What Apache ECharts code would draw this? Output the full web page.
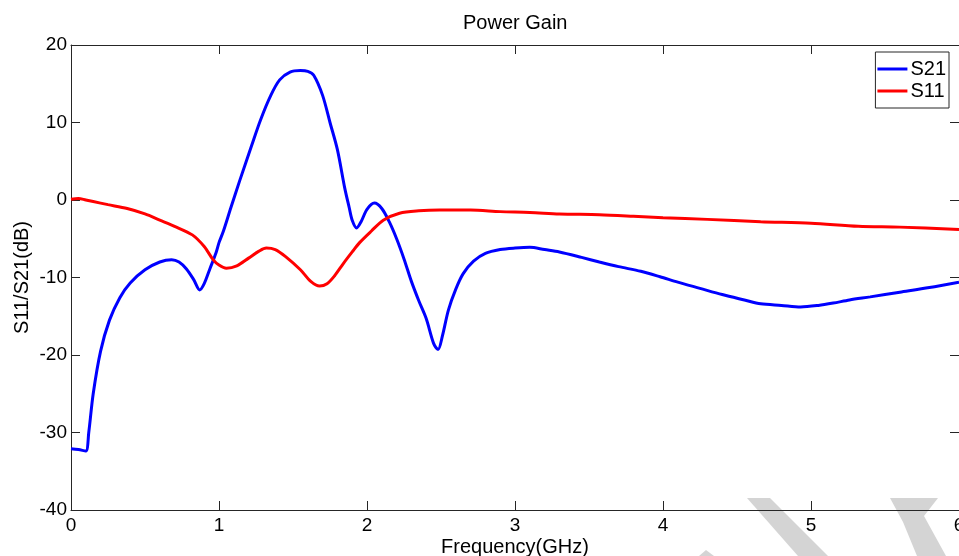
<!DOCTYPE html>
<html>
<head>
<meta charset="utf-8">
<title>Power Gain</title>
<script src="https://cdn.jsdelivr.net/npm/echarts@6/dist/echarts.min.js"></script>
<style>
  html, body { margin: 0; padding: 0; background: #fff; }
  #chart { width: 959px; height: 556px; }
</style>
</head>
<body>
<div id="chart"></div>
<script>
// S21 读数 (GHz, dB)
const s21Freq = [0.00, 0.05, 0.10, 0.12, 0.15, 0.20, 0.26, 0.33, 0.40, 0.50, 0.60, 0.68, 0.73, 0.78, 0.83, 0.87,
  0.90, 0.94, 0.98, 1.00, 1.03, 1.08, 1.14, 1.22, 1.28, 1.35, 1.41, 1.48, 1.55, 1.60, 1.64, 1.70, 1.75, 1.80,
  1.85, 1.88, 1.90, 1.93, 1.96, 2.00, 2.05, 2.10, 2.15, 2.20, 2.25, 2.30, 2.35, 2.40, 2.45, 2.48, 2.51, 2.55,
  2.60, 2.65, 2.72, 2.80, 2.90, 3.00, 3.10, 3.20, 3.30, 3.45, 3.57, 3.70, 3.85, 3.98, 4.10, 4.25, 4.40, 4.55,
  4.66, 4.80, 4.93, 5.05, 5.15, 5.26, 5.40, 5.60, 5.80, 6.00];
const s21Gain = [-32.1, -32.2, -32.4, -30.0, -25.0, -19.5, -15.5, -12.6, -10.7, -9.0, -8.0, -7.7, -8.0, -8.9, -10.3, -11.6,
  -10.8, -8.8, -6.8, -5.5, -4.0, -1.0, 2.5, 7.0, 10.3, 13.5, 15.5, 16.5, 16.7, 16.6, 16.1, 13.5, 10.0, 6.5,
  1.5, -1.0, -2.6, -3.6, -2.8, -1.2, -0.4, -1.1, -2.8, -5.0, -7.6, -10.5, -13.0, -15.3, -18.5, -19.3, -17.5, -14.2,
  -11.5, -9.5, -7.9, -6.9, -6.4, -6.2, -6.1, -6.4, -6.7, -7.4, -8.0, -8.6, -9.2, -9.9, -10.6, -11.4, -12.2, -12.9,
  -13.4, -13.6, -13.8, -13.6, -13.3, -12.9, -12.5, -11.9, -11.3, -10.6];

// S11 读数 (GHz, dB)
const s11Freq = [0.00, 0.05, 0.10, 0.15, 0.25, 0.38, 0.50, 0.60, 0.70, 0.82, 0.90, 0.96, 1.00, 1.05, 1.12, 1.20,
  1.27, 1.32, 1.38, 1.45, 1.55, 1.62, 1.68, 1.73, 1.78, 1.84, 1.90, 1.95, 2.03, 2.11, 2.22, 2.35, 2.49, 2.70,
  2.90, 3.10, 3.30, 3.57, 3.80, 4.00, 4.30, 4.66, 5.00, 5.32, 5.60, 6.00];
const s11Gain = [0.1, 0.2, 0.0, -0.2, -0.6, -1.1, -1.8, -2.6, -3.4, -4.5, -6.0, -7.7, -8.4, -8.8, -8.5, -7.5,
  -6.6, -6.2, -6.4, -7.3, -9.0, -10.5, -11.1, -10.8, -9.8, -8.2, -6.7, -5.5, -4.0, -2.6, -1.7, -1.4, -1.3, -1.3,
  -1.5, -1.6, -1.8, -1.9, -2.1, -2.3, -2.5, -2.8, -3.0, -3.4, -3.5, -3.8];

const seriesNames = ['S21', 'S11'];
const xTicks = [0, 1, 2, 3, 4, 5, 6];
const yTicks = [-40, -30, -20, -10, 0, 10, 20];

const font = 'Liberation Sans, Arial, sans-serif';
const axisColor = '#262626';

const chart = echarts.init(document.getElementById('chart'));

function pairs(xs, ys) {
  return xs.map((x, i) => [x, ys[i]]);
}

const tickStyle = {
  show: true,
  inside: true,
  length: 9,
  lineStyle: { color: axisColor, width: 1 }
};

chart.setOption({
  backgroundColor: '#fff',
  animation: false,
  title: {
    text: 'Power Gain',
    left: 458,
    top: 8,
    textStyle: { fontSize: 20, fontWeight: 'normal', color: '#000', fontFamily: font }
  },
  legend: {
    data: seriesNames,
    orient: 'vertical',
    right: 10,
    top: 52,
    padding: [7, 3, 7, 2],
    itemGap: 2,
    itemWidth: 30,
    itemHeight: 3,
    icon: 'rect',
    backgroundColor: '#fff',
    borderColor: axisColor,
    borderWidth: 1,
    borderRadius: 0,
    textStyle: { fontSize: 20, color: '#000', fontFamily: font, padding: [0, 0, 0, -2] }
  },
  grid: { left: 71, right: 0, top: 45, bottom: 46, containLabel: false, outerBoundsMode: 'none' },
  xAxis: [
    {
      type: 'value',
      min: xTicks[0],
      max: xTicks[xTicks.length - 1],
      interval: 1,
      name: 'Frequency(GHz)',
      nameLocation: 'middle',
      nameGap: 27,
      nameMoveOverlap: false,
      nameTextStyle: { fontSize: 20, color: '#000', fontFamily: font },
      axisLine: { onZero: false, lineStyle: { color: axisColor, width: 1 } },
      axisTick: tickStyle,
      axisLabel: { fontSize: 19, color: '#000', fontFamily: font, margin: 6 },
      splitLine: { show: false }
    },
    {
      type: 'value',
      position: 'top',
      min: xTicks[0],
      max: xTicks[xTicks.length - 1],
      interval: 1,
      axisLine: { onZero: false, lineStyle: { color: axisColor, width: 1 } },
      axisTick: tickStyle,
      axisLabel: { show: false },
      splitLine: { show: false }
    }
  ],
  yAxis: [
    {
      type: 'value',
      min: yTicks[0],
      max: yTicks[yTicks.length - 1],
      interval: 10,
      name: 'S11/S21(dB)',
      nameLocation: 'middle',
      nameGap: 39,
      nameMoveOverlap: false,
      nameTextStyle: { fontSize: 20, color: '#000', fontFamily: font },
      axisLine: { show: true, onZero: false, lineStyle: { color: axisColor, width: 1 } },
      axisTick: tickStyle,
      axisLabel: { fontSize: 19, color: '#000', fontFamily: font, margin: 4 },
      splitLine: { show: false }
    },
    {
      type: 'value',
      position: 'right',
      min: yTicks[0],
      max: yTicks[yTicks.length - 1],
      interval: 10,
      axisLine: { show: false, onZero: false },
      axisTick: tickStyle,
      axisLabel: { show: false },
      splitLine: { show: false }
    }
  ],
  // 右下角的浅灰水印
  graphic: [
    {
      type: 'polygon',
      z: -10,
      shape: { points: [[747, 498], [770, 498], [828, 556], [798, 556]] },
      style: { fill: '#d4d4d4' }
    },
    {
      type: 'polygon',
      z: -10,
      shape: { points: [[890, 498], [938, 498], [924, 516], [946, 556], [917, 556], [903, 522]] },
      style: { fill: '#d4d4d4' }
    },
    {
      type: 'polygon',
      z: -10,
      shape: { points: [[699, 556], [706, 550], [714, 556]] },
      style: { fill: '#d4d4d4' }
    }
  ],
  series: [
    {
      name: seriesNames[0],
      type: 'line',
      data: pairs(s21Freq, s21Gain),
      showSymbol: false,
      symbol: 'none',
      smooth: 0.3,
      lineStyle: { color: '#0000ff', width: 3 },
      itemStyle: { color: '#0000ff' }
    },
    {
      name: seriesNames[1],
      type: 'line',
      data: pairs(s11Freq, s11Gain),
      showSymbol: false,
      symbol: 'none',
      smooth: 0.3,
      lineStyle: { color: '#ff0000', width: 3 },
      itemStyle: { color: '#ff0000' }
    }
  ]
});
</script>
</body>
</html>
